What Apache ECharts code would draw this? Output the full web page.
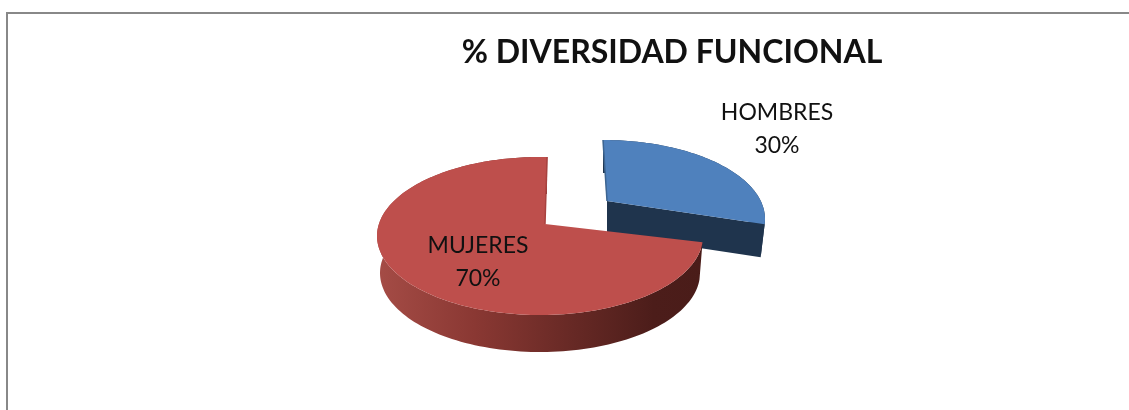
<!DOCTYPE html>
<html>
<head>
<meta charset="utf-8">
<title>% DIVERSIDAD FUNCIONAL</title>
<style>
  html, body { margin: 0; padding: 0; background: #fff; }
  #main { width: 1129px; height: 410px; }
</style>
<script src="https://cdn.jsdelivr.net/npm/echarts@6/dist/echarts.min.js"></script>
</head>
<body>
<div id="main"></div>
<script>
// datos
var titleText = '% DIVERSIDAD FUNCIONAL';
var categories = ['HOMBRES', 'MUJERES'];
var percentValues = [30, 70];

// disco 3D falso: echarts no tiene pie 3d sin gl, asi que va por custom series
// el borde es una elipse real, el vertice va aparte (ax, ay) por la perspectiva
var WARP = 15 * Math.PI / 180;
var discs = [
  { cx: 603, cy: 219, rx: 162, ry: 79, ax: 607, ay: 201, lean: 0, depth: 33, shrink: 4,
    top: '#4f81bd', edge: '#3d6591', wall: '#1f344d', labelX: 777, labelY: 129.5 },
  { cx: 540, cy: 236, rx: 163, ry: 79, ax: 545, ay: 224, lean: 2.5 * Math.PI / 180, depth: 37, shrink: 3,
    top: '#be4f4c', edge: '#a8423f', wall: '#7e3430', labelX: 478, labelY: 262 }
];
var FONT = 'Lato, "Open Sans", sans-serif';

// punto del borde para un angulo del sector (0 = arriba, sentido horario)
function rimPoint(d, angle, isBottom) {
  var phi = angle - WARP * Math.sin(angle) + d.lean * angle / (Math.PI * 2);
  var rx = isBottom ? d.rx - d.shrink : d.rx;
  var x = d.cx + rx * Math.sin(phi);
  var y = d.cy - d.ry * Math.cos(phi);
  return [x, isBottom ? y + d.depth : y];
}

function apexPoint(d, isBottom) {
  return [d.ax, isBottom ? d.ay + d.depth : d.ay];
}

function arcPoints(d, from, to, isBottom) {
  var pts = [];
  var steps = Math.ceil(Math.abs(to - from) / (Math.PI / 120));
  for (var i = 0; i <= steps; i++) {
    pts.push(rimPoint(d, from + (to - from) * i / steps, isBottom));
  }
  return pts;
}

function sliceAngles(index) {
  var total = percentValues.reduce(function (a, b) { return a + b; }, 0);
  var before = 0;
  for (var i = 0; i < index; i++) before += percentValues[i];
  return [before / total * Math.PI * 2, (before + percentValues[index]) / total * Math.PI * 2];
}

function renderSlice(params, api) {
  var i = params.dataIndex;
  var d = discs[i];
  var ang = sliceAngles(i);
  var children = [];

  // pared exterior
  var wallPts = arcPoints(d, ang[0], ang[1], false).concat(arcPoints(d, ang[1], ang[0], true));
  children.push({
    type: 'polygon',
    shape: { points: wallPts },
    style: {
      fill: i === 1
        ? new echarts.graphic.LinearGradient(0, 0, 1, 0, [
            { offset: 0, color: '#a54c46' },
            { offset: 0.3, color: '#8a3833' },
            { offset: 0.6, color: '#672925' },
            { offset: 0.85, color: '#4c1d1a' },
            { offset: 1, color: '#4a1c19' }
          ])
        : d.wall
    }
  });

  // cara del corte, solo se ve en el sector separado
  if (i === 0) {
    children.push({
      type: 'polygon',
      shape: {
        points: [
          apexPoint(d, false),
          rimPoint(d, ang[1], false),
          rimPoint(d, ang[1], true),
          apexPoint(d, true)
        ]
      },
      style: { fill: d.wall }
    });
  }

  // cara superior
  var topPts = [apexPoint(d, false)].concat(arcPoints(d, ang[0], ang[1], false));
  children.push({
    type: 'polygon',
    shape: { points: topPts },
    style: { fill: d.top }
  });

  // borde fino del corte que da al hueco
  var p0 = apexPoint(d, false);
  var p1 = rimPoint(d, i === 0 ? ang[0] : ang[1], false);
  children.push({
    type: 'line',
    shape: { x1: p0[0], y1: p0[1], x2: p1[0], y2: p1[1] },
    style: { stroke: d.edge, lineWidth: 1.5 }
  });

  // etiqueta
  children.push({
    type: 'text',
    z2: 10,
    style: {
      x: d.labelX,
      y: d.labelY,
      text: categories[i] + '\n' + api.value(0) + '%',
      fill: '#111111',
      font: '23px ' + FONT,
      lineHeight: 33,
      align: 'center',
      verticalAlign: 'middle'
    }
  });

  return { type: 'group', children: children };
}

var chart = echarts.init(document.getElementById('main'), null, { renderer: 'canvas' });
chart.setOption({
  animation: false,
  backgroundColor: '#ffffff',
  title: {
    text: titleText,
    left: 667,
    top: 32,
    textAlign: 'center',
    textStyle: { fontFamily: FONT, fontSize: 32, fontWeight: 'bold', color: '#111111' }
  },
  graphic: [{
    type: 'polyline',
    shape: { points: [[7, 410], [7, 13], [1129, 13]] },
    style: { stroke: '#888888', lineWidth: 2, fill: null }
  }],
  series: [{
    type: 'custom',
    coordinateSystem: 'none',
    renderItem: renderSlice,
    data: categories.map(function (name, i) {
      return { name: name, value: [percentValues[i]] };
    })
  }]
});
</script>
</body>
</html>
